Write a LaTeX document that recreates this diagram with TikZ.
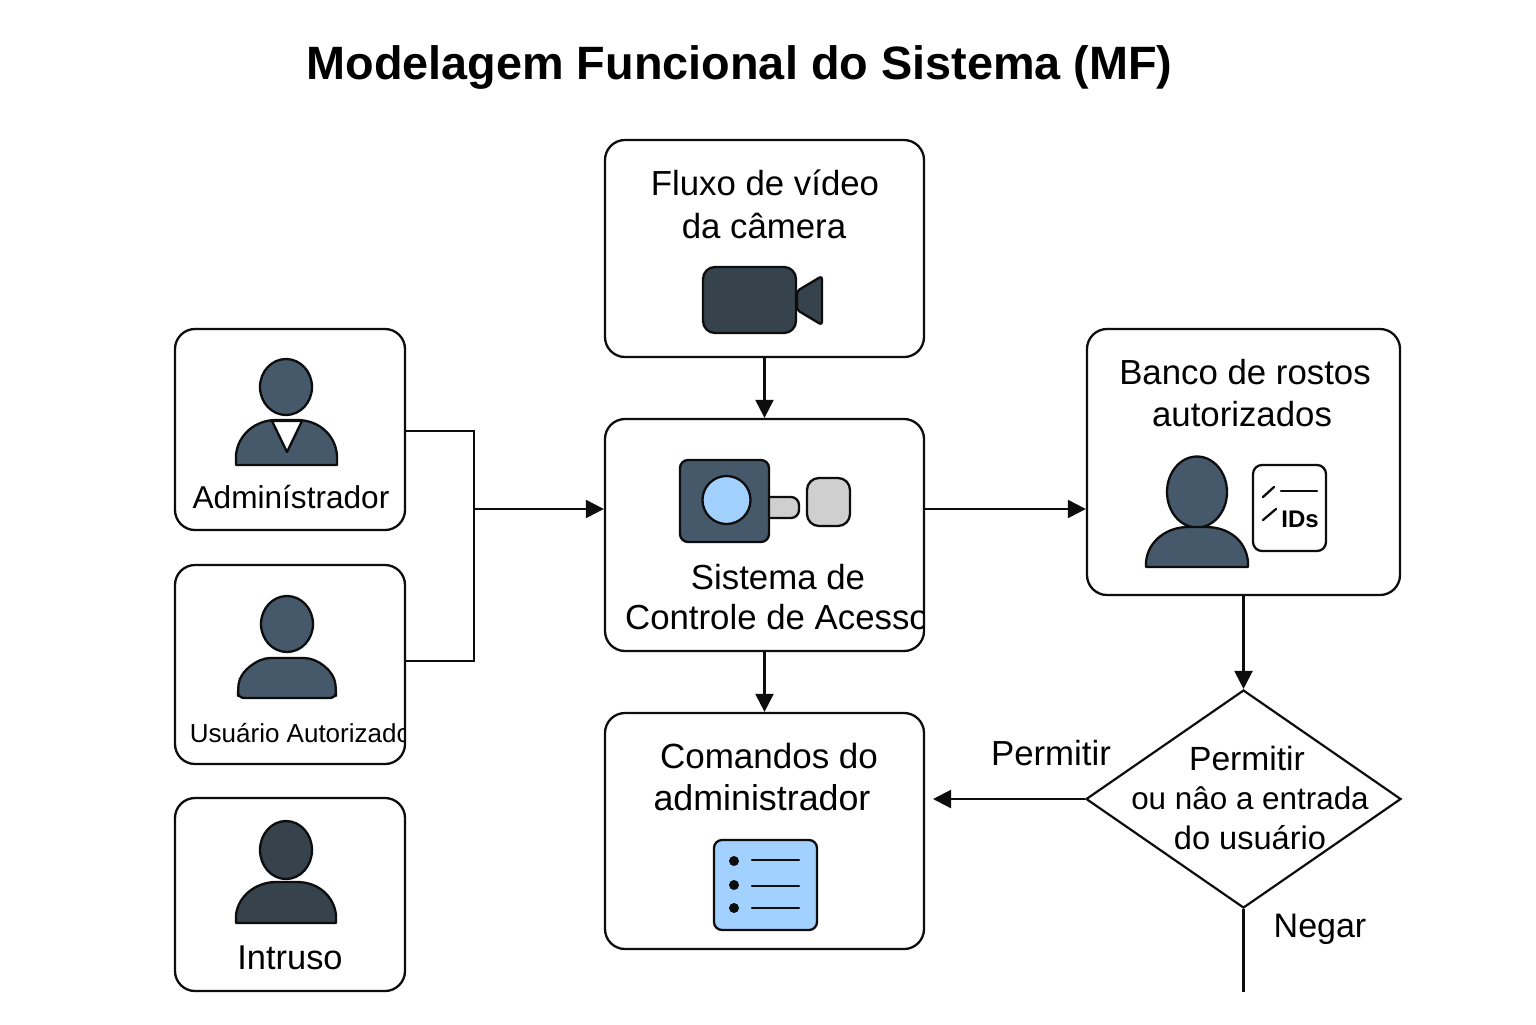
\documentclass[tikz,border=0pt]{standalone}
\usepackage{fontspec}
\setmainfont{Liberation Sans}
\usetikzlibrary{arrows.meta,shapes.geometric}
\definecolor{slatea}{HTML}{46596B}
\definecolor{slateb}{HTML}{36434C}
\definecolor{skyb}{HTML}{A3D1FF}
\definecolor{greyb}{HTML}{CFCFCF}
\definecolor{inkc}{HTML}{0D0D0D}
\tikzset{
  box/.style={draw=inkc,line width=1.15pt,rounded corners=10pt,fill=white,inner sep=0pt},
  boxsize/.style 2 args={minimum width=#1*0.5pt,minimum height=#2*0.5pt},
  lbl/.style={inner sep=0pt,text=black,font=\fontsize{#1}{19}\selectfont},
  lbl/.default=17.4,
  ttl/.style={inner sep=0pt,text=black,font=\fontsize{23.4}{27}\selectfont\bfseries},
  conn/.style={draw=inkc,line width=1.1pt},
  arrowed/.style={conn,-{Triangle[length=9pt,width=9pt]}},
  icon/.style={draw=inkc,line width=1.15pt,line join=round},
  thin icon/.style={draw=inkc,line width=1.15pt,line cap=round},
}
\begin{document}
\begin{tikzpicture}[x=0.5pt,y=-0.5pt]
\useasboundingbox (0,0) rectangle (1536,1024);
\fill[white] (0,0) rectangle (1536,1024);
\node[ttl] (title) at (739.5,67) {Modelagem Funcional do Sistema (MF)};

% boxes
\node[box,boxsize={319}{217}] (cam) at (764.5,248.5) {};
\node[box,boxsize={319}{232}] (sys) at (764.5,535) {};
\node[box,boxsize={319}{236}] (cmd) at (764.5,831) {};
\node[box,boxsize={313}{266}] (bank) at (1243.5,462) {};
\node[box,boxsize={230}{201}] (adm) at (290,429.5) {};
\node[box,boxsize={230}{199}] (usr) at (290,664.5) {};
\node[box,boxsize={230}{193}] (int) at (290,894.5) {};
\node[draw=inkc,line width=1.1pt,diamond,aspect=1.445,inner sep=0pt,minimum width=157.5pt,minimum height=109pt] (dec) at (1243.5,799) {};

% connectors
\coordinate (ja) at (474,431);
\coordinate (ju) at (474,661);
\coordinate (jm) at (474,509);
\coordinate (permend) at (933,799);
\coordinate (negend) at (1243.5,992);
\draw[conn] (ja -| adm.east) -- (ja) -- (ju) -- (ju -| usr.east);
\draw[arrowed] (jm) -- (jm -| sys.west);
\draw[arrowed] (jm -| sys.east) -- (jm -| bank.west);
\draw[arrowed,xshift=0.25pt] (cam.south) -- (sys.north);
\draw[arrowed,xshift=0.25pt] (sys.south) -- (cmd.north);
\draw[arrowed,xshift=0.25pt] (bank.south) -- (dec.north);
\draw[arrowed] (dec.west) -- (permend);
\draw[conn,xshift=0.25pt] (dec.south) -- (negend);

% camera
\node[lbl] (cam1) at (765,183) {Fluxo de vídeo};
\node[lbl] (cam2) at (764,226) {da câmera};
\draw[icon,fill=slateb,rounded corners=6pt] (703,267) rectangle (796,333);
\draw[icon,fill=slateb,rounded corners=1.5pt] (797,291) -- (822,276) -- (822,325) -- (797,310) -- cycle;

% system
\draw[icon,fill=greyb,rounded corners=4pt] (755,497) rectangle (799,518);
\draw[icon,fill=slatea,rounded corners=4pt] (680,460) rectangle (769,542);
\draw[icon,fill=skyb] (726.5,500) circle (24);
\draw[icon,fill=greyb,rounded corners=6pt] (807,478) rectangle (850,526);
\node[lbl] (sys1) at (778,577) {Sistema de};
\begin{scope}
\clip (600,590) rectangle (923,640);
\node[lbl] (sys2) at (777,617) {Controle de Acesso};
\end{scope}

% bank
\node[lbl] (bank1) at (1245,372) {Banco de rostos};
\node[lbl] (bank2) at (1242,414) {autorizados};
\draw[icon,fill=slatea] (1197,492) ellipse (30 and 35.5);
\draw[icon,fill=slatea] (1146,567) -- (1146,562) .. controls (1148,540) and (1168,527) .. (1188,527) -- (1206,527) .. controls (1228,527) and (1246,540) .. (1248,562) -- (1248,567) -- cycle;
\draw[icon,fill=white,rounded corners=4.5pt] (1253,465) rectangle (1326,551);
\draw[thin icon] (1263,497) -- (1274,487);
\draw[thin icon] (1263,520) -- (1276,509);
\draw[thin icon] (1281,491) -- (1317,491);
\node[inner sep=0pt,text=black,font=\fontsize{12}{14}\selectfont\bfseries] (ids) at (1300,519) {IDs};

% administrator
\draw[icon,fill=slatea] (286,387) ellipse (26 and 28);
\draw[icon,fill=slatea] (236,465) -- (236,455) .. controls (238,434) and (256,420) .. (276,420) -- (297,420) .. controls (318,420) and (335,434) .. (337,455) -- (337,465) -- cycle;
\draw[icon,fill=white] (272,421) -- (302,421) -- (287,452) -- cycle;
\node[lbl=15.8] (adm1) at (291,497) {Adminístrador};

% authorised user
\draw[icon,fill=slatea] (287,624) ellipse (26 and 28);
\draw[icon,fill=slatea,rounded corners=3pt] (238,698) -- (238,690) .. controls (240,671) and (258,658) .. (276,658) -- (298,658) .. controls (318,658) and (334,671) .. (336,690) -- (336,698) -- cycle;
\begin{scope}
\clip (180,710) rectangle (404.5,760);
\node[lbl=13] (usr1) at (300.5,733) {Usuário Autorizado};
\end{scope}

% intruder
\draw[icon,fill=slateb] (286,850) ellipse (26 and 29);
\draw[icon,fill=slateb] (236,923) -- (236,915) .. controls (238,896) and (256,882) .. (276,882) -- (297,882) .. controls (318,882) and (334,896) .. (336,915) -- (336,923) -- cycle;
\node[lbl=17.2] (int1) at (290,958) {Intruso};

% commands
\node[lbl=17.5] (cmd1) at (769,756) {Comandos do};
\node[lbl=17.9] (cmd2) at (762,798) {administrador};
\draw[icon,fill=skyb,rounded corners=4pt] (714,840) rectangle (817,930);
\foreach \yy in {861,885,908} {\fill[inkc] (734,\yy) circle (5);}
\draw[thin icon] (752,860) -- (799,860);
\draw[thin icon] (752,886) -- (799,886);
\draw[thin icon] (752,908) -- (799,908);

% decision
\node[lbl=16.8] (dec1) at (1247,758) {Permitir};
\node[lbl=15.7] (dec2) at (1250,798) {ou nâo a entrada};
\node[lbl=16.3] (dec3) at (1250,838) {do usuário};
\node[lbl=17.4] (permit) at (1051,753) {Permitir};
\node[lbl=17] (deny) at (1320,929) {Negar};
\end{tikzpicture}
\end{document}
